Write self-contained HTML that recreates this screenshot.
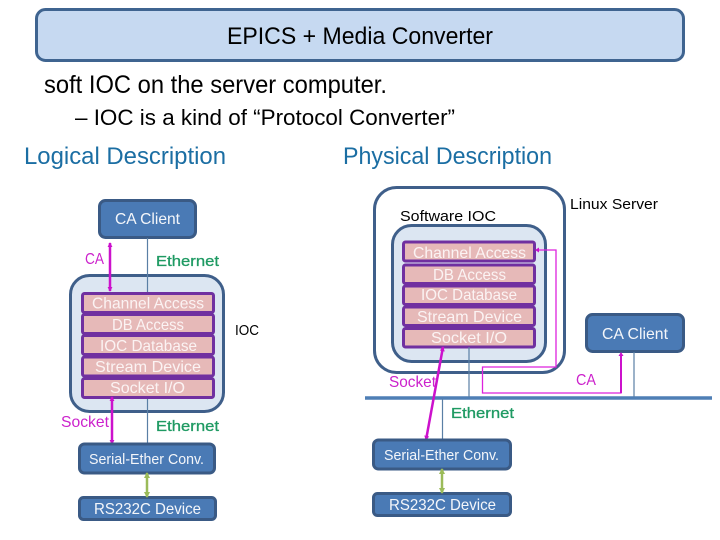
<!DOCTYPE html>
<html>
<head>
<meta charset="utf-8">
<style>
html,body{margin:0;padding:0;background:#fff;width:720px;height:540px;overflow:hidden}
svg{display:block}
text{font-family:"Liberation Sans",sans-serif}
.b{fill:#000}
.h{fill:#1b6ea3}
.w{fill:#f4f6fa}
.l{fill:#fbf3f3}
.m{fill:#cc22cc}
.g{fill:#1f9a63;stroke:#1f9a63;stroke-width:.3}
.layer{fill:#e6b9b8;stroke:#7030a0;stroke-width:3}
.ioc{fill:#dce6f2;stroke:#3f5f8a;stroke-width:3}
.blue{fill:#4a7ab5;stroke:#3a5a85;stroke-width:3}
.line{stroke:#5a7fa5;stroke-width:1.2;fill:none}
</style>
</head>
<body>
<svg width="720" height="540" viewBox="0 0 720 540" xmlns="http://www.w3.org/2000/svg">
<defs>
<marker id="mg" viewBox="0 0 6 6" refX="5" refY="3" markerWidth="2" markerHeight="2" orient="auto-start-reverse"><path d="M0 0L6 3L0 6Z" fill="#cc11cc"/></marker>
<marker id="gr" viewBox="0 0 6 6" refX="5" refY="3" markerWidth="2.4" markerHeight="2.4" orient="auto-start-reverse"><path d="M0 0L6 3L0 6Z" fill="#9bbb59"/></marker>
</defs>

<rect x="36.500" y="9.500" width="647" height="51" rx="9" fill="#c6d9f1" stroke="#3f6490" stroke-width="3"/>
<text class="b" x="227" y="44" font-size="24" textLength="266" lengthAdjust="spacingAndGlyphs">EPICS + Media Converter</text>
<text class="b" x="44" y="93" font-size="25" textLength="343" lengthAdjust="spacingAndGlyphs">soft IOC on the server computer.</text>
<text class="b" x="75" y="125" font-size="22" textLength="380" lengthAdjust="spacingAndGlyphs">–  IOC is a kind of “Protocol Converter”</text>
<text class="h" x="24" y="164" font-size="24" textLength="202" lengthAdjust="spacingAndGlyphs">Logical Description</text>
<text class="h" x="343" y="164" font-size="24" textLength="209" lengthAdjust="spacingAndGlyphs">Physical Description</text>

<!-- Logical -->
<rect class="blue" x="99.500" y="200.500" width="96" height="37" rx="6"/>
<text class="w" x="115" y="224" font-size="16" textLength="65" lengthAdjust="spacingAndGlyphs">CA Client</text>
<rect class="ioc" x="70.500" y="275.500" width="153" height="136" rx="19"/>
<line class="line" x1="147.500" y1="238" x2="147.500" y2="293"/>
<line class="line" x1="147.500" y1="398" x2="147.500" y2="444"/>
<rect class="layer" x="82.500" y="293.500" width="131" height="19" rx="2"/>
<rect class="layer" x="82.500" y="314.500" width="131" height="19" rx="2"/>
<rect class="layer" x="82.500" y="335.500" width="131" height="19" rx="2"/>
<rect class="layer" x="82.500" y="357" width="131" height="19" rx="2"/>
<rect class="layer" x="82.500" y="378.500" width="131" height="19" rx="2"/>
<text class="l" x="92" y="308.500" font-size="16" textLength="112" lengthAdjust="spacingAndGlyphs">Channel Access</text>
<text class="l" x="112" y="330" font-size="16" textLength="72" lengthAdjust="spacingAndGlyphs">DB Access</text>
<text class="l" x="100" y="351" font-size="16" textLength="97" lengthAdjust="spacingAndGlyphs">IOC Database</text>
<text class="l" x="95" y="372" font-size="16" textLength="106" lengthAdjust="spacingAndGlyphs">Stream Device</text>
<text class="l" x="110" y="393" font-size="16" textLength="75" lengthAdjust="spacingAndGlyphs">Socket I/O</text>
<line x1="110" y1="243" x2="110" y2="291" stroke="#cc11cc" stroke-width="2.500" marker-start="url(#mg)" marker-end="url(#mg)"/>
<line x1="112" y1="397" x2="112" y2="444" stroke="#cc11cc" stroke-width="2.500" marker-start="url(#mg)" marker-end="url(#mg)"/>
<text class="m" x="85" y="264" font-size="16" textLength="19" lengthAdjust="spacingAndGlyphs">CA</text>
<text class="g" x="156" y="266" font-size="15" textLength="63" lengthAdjust="spacingAndGlyphs">Ethernet</text>
<text class="b" x="235" y="335" font-size="15" textLength="24" lengthAdjust="spacingAndGlyphs">IOC</text>
<text class="m" x="61" y="427" font-size="16" textLength="48" lengthAdjust="spacingAndGlyphs">Socket</text>
<text class="g" x="156" y="431" font-size="15" textLength="63" lengthAdjust="spacingAndGlyphs">Ethernet</text>
<rect class="blue" x="79.500" y="444" width="135" height="29" rx="5"/>
<text class="w" x="89" y="464" font-size="15" textLength="115" lengthAdjust="spacingAndGlyphs">Serial-Ether Conv.</text>
<rect class="blue" x="79.500" y="497.500" width="136" height="22" rx="4"/>
<text class="w" x="94" y="514" font-size="16" textLength="107" lengthAdjust="spacingAndGlyphs">RS232C Device</text>
<line x1="147" y1="473" x2="147" y2="497" stroke="#9bbb59" stroke-width="2.500" marker-start="url(#gr)" marker-end="url(#gr)"/>

<!-- Physical -->
<rect x="374.500" y="187.500" width="190" height="185" rx="22" fill="#fff" stroke="#3f5f8a" stroke-width="3"/>
<rect class="ioc" x="392.500" y="225.500" width="153" height="136" rx="19"/>
<rect class="layer" x="403.500" y="242" width="131" height="19" rx="2"/>
<rect class="layer" x="403.500" y="265" width="131" height="18.500" rx="2"/>
<rect class="layer" x="403.500" y="286" width="131" height="18.500" rx="2"/>
<rect class="layer" x="403.500" y="307" width="131" height="18.500" rx="2"/>
<rect class="layer" x="403.500" y="328.500" width="131" height="18.500" rx="2"/>
<text class="l" x="413" y="258" font-size="16" textLength="113" lengthAdjust="spacingAndGlyphs">Channel Access</text>
<text class="l" x="433" y="280" font-size="16" textLength="73" lengthAdjust="spacingAndGlyphs">DB Access</text>
<text class="l" x="421" y="300" font-size="16" textLength="96" lengthAdjust="spacingAndGlyphs">IOC Database</text>
<text class="l" x="417" y="322" font-size="16" textLength="105" lengthAdjust="spacingAndGlyphs">Stream Device</text>
<text class="l" x="431" y="343" font-size="16" textLength="76" lengthAdjust="spacingAndGlyphs">Socket I/O</text>
<text class="b" x="570" y="209" font-size="15" textLength="88" lengthAdjust="spacingAndGlyphs">Linux Server</text>
<text class="b" x="400" y="221" font-size="15" textLength="96" lengthAdjust="spacingAndGlyphs">Software IOC</text>
<rect class="blue" x="586.500" y="314.500" width="97" height="37" rx="6"/>
<text class="w" x="602" y="339" font-size="16" textLength="66" lengthAdjust="spacingAndGlyphs">CA Client</text>
<line x1="365" y1="398" x2="712" y2="398" stroke="#4f7fb5" stroke-width="3.500"/>
<line class="line" x1="469" y1="347" x2="469" y2="397"/>
<line class="line" x1="634" y1="352" x2="634" y2="397"/>
<line class="line" x1="442.500" y1="399" x2="442.500" y2="440"/>
<path d="M536 250H556V367H482.500V393H621V353" fill="none" stroke="#dd22dd" stroke-width="1.300"/>
<path d="M535 250l4-2.500v5z" fill="#cc11cc"/>
<path d="M621 352l-2.500 4h5z" fill="#cc11cc"/>
<line x1="621" y1="355" x2="621" y2="393" stroke="#cc11cc" stroke-width="2"/>
<line x1="443" y1="347" x2="426" y2="440" stroke="#cc11cc" stroke-width="2.500" marker-start="url(#mg)" marker-end="url(#mg)"/>
<text class="m" x="389" y="387" font-size="16" textLength="47" lengthAdjust="spacingAndGlyphs">Socket</text>
<text class="m" x="576" y="385" font-size="16" textLength="20" lengthAdjust="spacingAndGlyphs">CA</text>
<text class="g" x="451" y="418" font-size="15" textLength="63" lengthAdjust="spacingAndGlyphs">Ethernet</text>
<rect class="blue" x="373.500" y="440" width="137" height="29" rx="5"/>
<text class="w" x="384" y="460" font-size="15" textLength="115" lengthAdjust="spacingAndGlyphs">Serial-Ether Conv.</text>
<rect class="blue" x="373.500" y="493.500" width="137" height="22" rx="4"/>
<text class="w" x="389" y="510" font-size="16" textLength="107" lengthAdjust="spacingAndGlyphs">RS232C Device</text>
<line x1="442" y1="469" x2="442" y2="493" stroke="#9bbb59" stroke-width="2.500" marker-start="url(#gr)" marker-end="url(#gr)"/>
</svg>
</body>
</html>
